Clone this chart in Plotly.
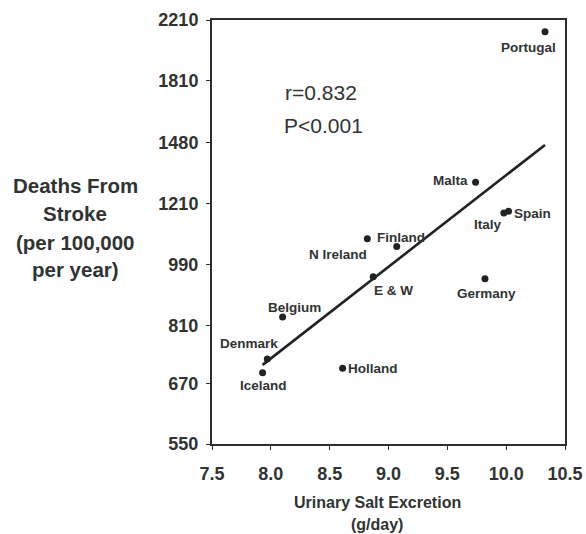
import math
import plotly.graph_objects as go

countries = ["Portugal", "Malta", "Italy", "Spain", "N Ireland", "Finland", "E & W",
             "Germany", "Belgium", "Denmark", "Iceland", "Holland"]
salt = [10.33, 9.74, 9.98, 10.02, 8.82, 9.07, 8.87, 9.82, 8.10, 7.97, 7.93, 8.61]
deaths = [2126, 1298, 1173, 1180, 1078, 1051, 952, 946, 834, 727, 695, 705]

fit_x = [7.93, 10.33]
fit_y = [713, 1467]

x_ticks = [7.5, 8.0, 8.5, 9.0, 9.5, 10.0, 10.5]
y_ticks = [550, 670, 810, 990, 1210, 1480, 1810, 2210]

y_title_lines = ["Deaths From", "Stroke", "(per 100,000", "per year)"]
x_title_lines = ["Urinary Salt Excretion", "(g/day)"]

# label placement (anchor, pixel shifts) per country
label_pos = {
    "Portugal": ("center", "top", -17, -6),
    "Malta": ("right", "middle", -6, 2),
    "Italy": ("right", "top", 0, -2),
    "Spain": ("left", "middle", 3, -2),
    "N Ireland": ("right", "top", 2, -6),
    "Finland": ("center", "middle", 4, 9),
    "E & W": ("center", "top", 20, -4),
    "Germany": ("center", "top", 2, -5),
    "Belgium": ("center", "bottom", 12, 0),
    "Denmark": ("center", "bottom", -18, 6),
    "Iceland": ("center", "top", 1, -3),
    "Holland": ("left", "middle", 3, 0),
}

TXT = "#2f3432"
FONT = "Liberation Sans, Arial, sans-serif"

fig = go.Figure()
fig.add_trace(go.Scatter(x=fit_x, y=fit_y, mode="lines",
                         line=dict(color="#1f2422", width=2.6), hoverinfo="skip"))
fig.add_trace(go.Scatter(x=salt, y=deaths, mode="markers",
                         marker=dict(color="#1f2422", size=7)))

for c, xv, yv in zip(countries, salt, deaths):
    xa, ya, dx, dy = label_pos[c]
    fig.add_annotation(x=xv, y=math.log10(yv), xref="x", yref="y", text="<b>%s</b>" % c,
                       showarrow=False, xanchor=xa, yanchor=ya, xshift=dx, yshift=dy,
                       font=dict(size=13.5, color=TXT, family=FONT))

fig.add_annotation(x=0.31, y=0.83, xref="paper", yref="paper", text="r=0.832",
                   showarrow=False, xanchor="center", yanchor="middle",
                   font=dict(size=21, color=TXT, family=FONT))
fig.add_annotation(x=0.315, y=0.752, xref="paper", yref="paper", text="P<0.001",
                   showarrow=False, xanchor="center", yanchor="middle",
                   font=dict(size=21, color=TXT, family=FONT))

for line, py in zip(y_title_lines, [0.6085, 0.5448, 0.4764, 0.4104]):
    fig.add_annotation(x=-0.388, y=py, xref="paper", yref="paper",
                       text="<b>%s</b>" % line, showarrow=False,
                       xanchor="center", yanchor="middle",
                       font=dict(size=20.5, color=TXT, family=FONT))
for line, py in zip(x_title_lines, [-0.137, -0.190]):
    fig.add_annotation(x=0.468, y=py, xref="paper", yref="paper",
                       text="<b>%s</b>" % line, showarrow=False,
                       xanchor="center", yanchor="middle",
                       font=dict(size=16, color=TXT, family=FONT))

axis_common = dict(showgrid=False, zeroline=False, showline=True, linecolor="#2a2e2c",
                   linewidth=2, mirror=True, ticks="outside", ticklen=4, automargin=False,
                   tickcolor="#2a2e2c", tickfont=dict(size=18, color=TXT, family=FONT))
fig.update_xaxes(range=[7.5, 10.5], tickvals=x_ticks,
                 ticktext=["<b>%.1f</b>" % v for v in x_ticks],
                 ticklabelstandoff=8, **axis_common)
fig.update_yaxes(type="log", range=[math.log10(550), math.log10(2210)],
                 tickvals=y_ticks, ticktext=["<b>%d</b>" % v for v in y_ticks],
                 ticklabelstandoff=4, **axis_common)

fig.update_layout(width=586, height=534, margin=dict(l=212, r=21, t=20, b=90),
                  plot_bgcolor="white", paper_bgcolor="white", showlegend=False)

fig.write_html("out.html")
